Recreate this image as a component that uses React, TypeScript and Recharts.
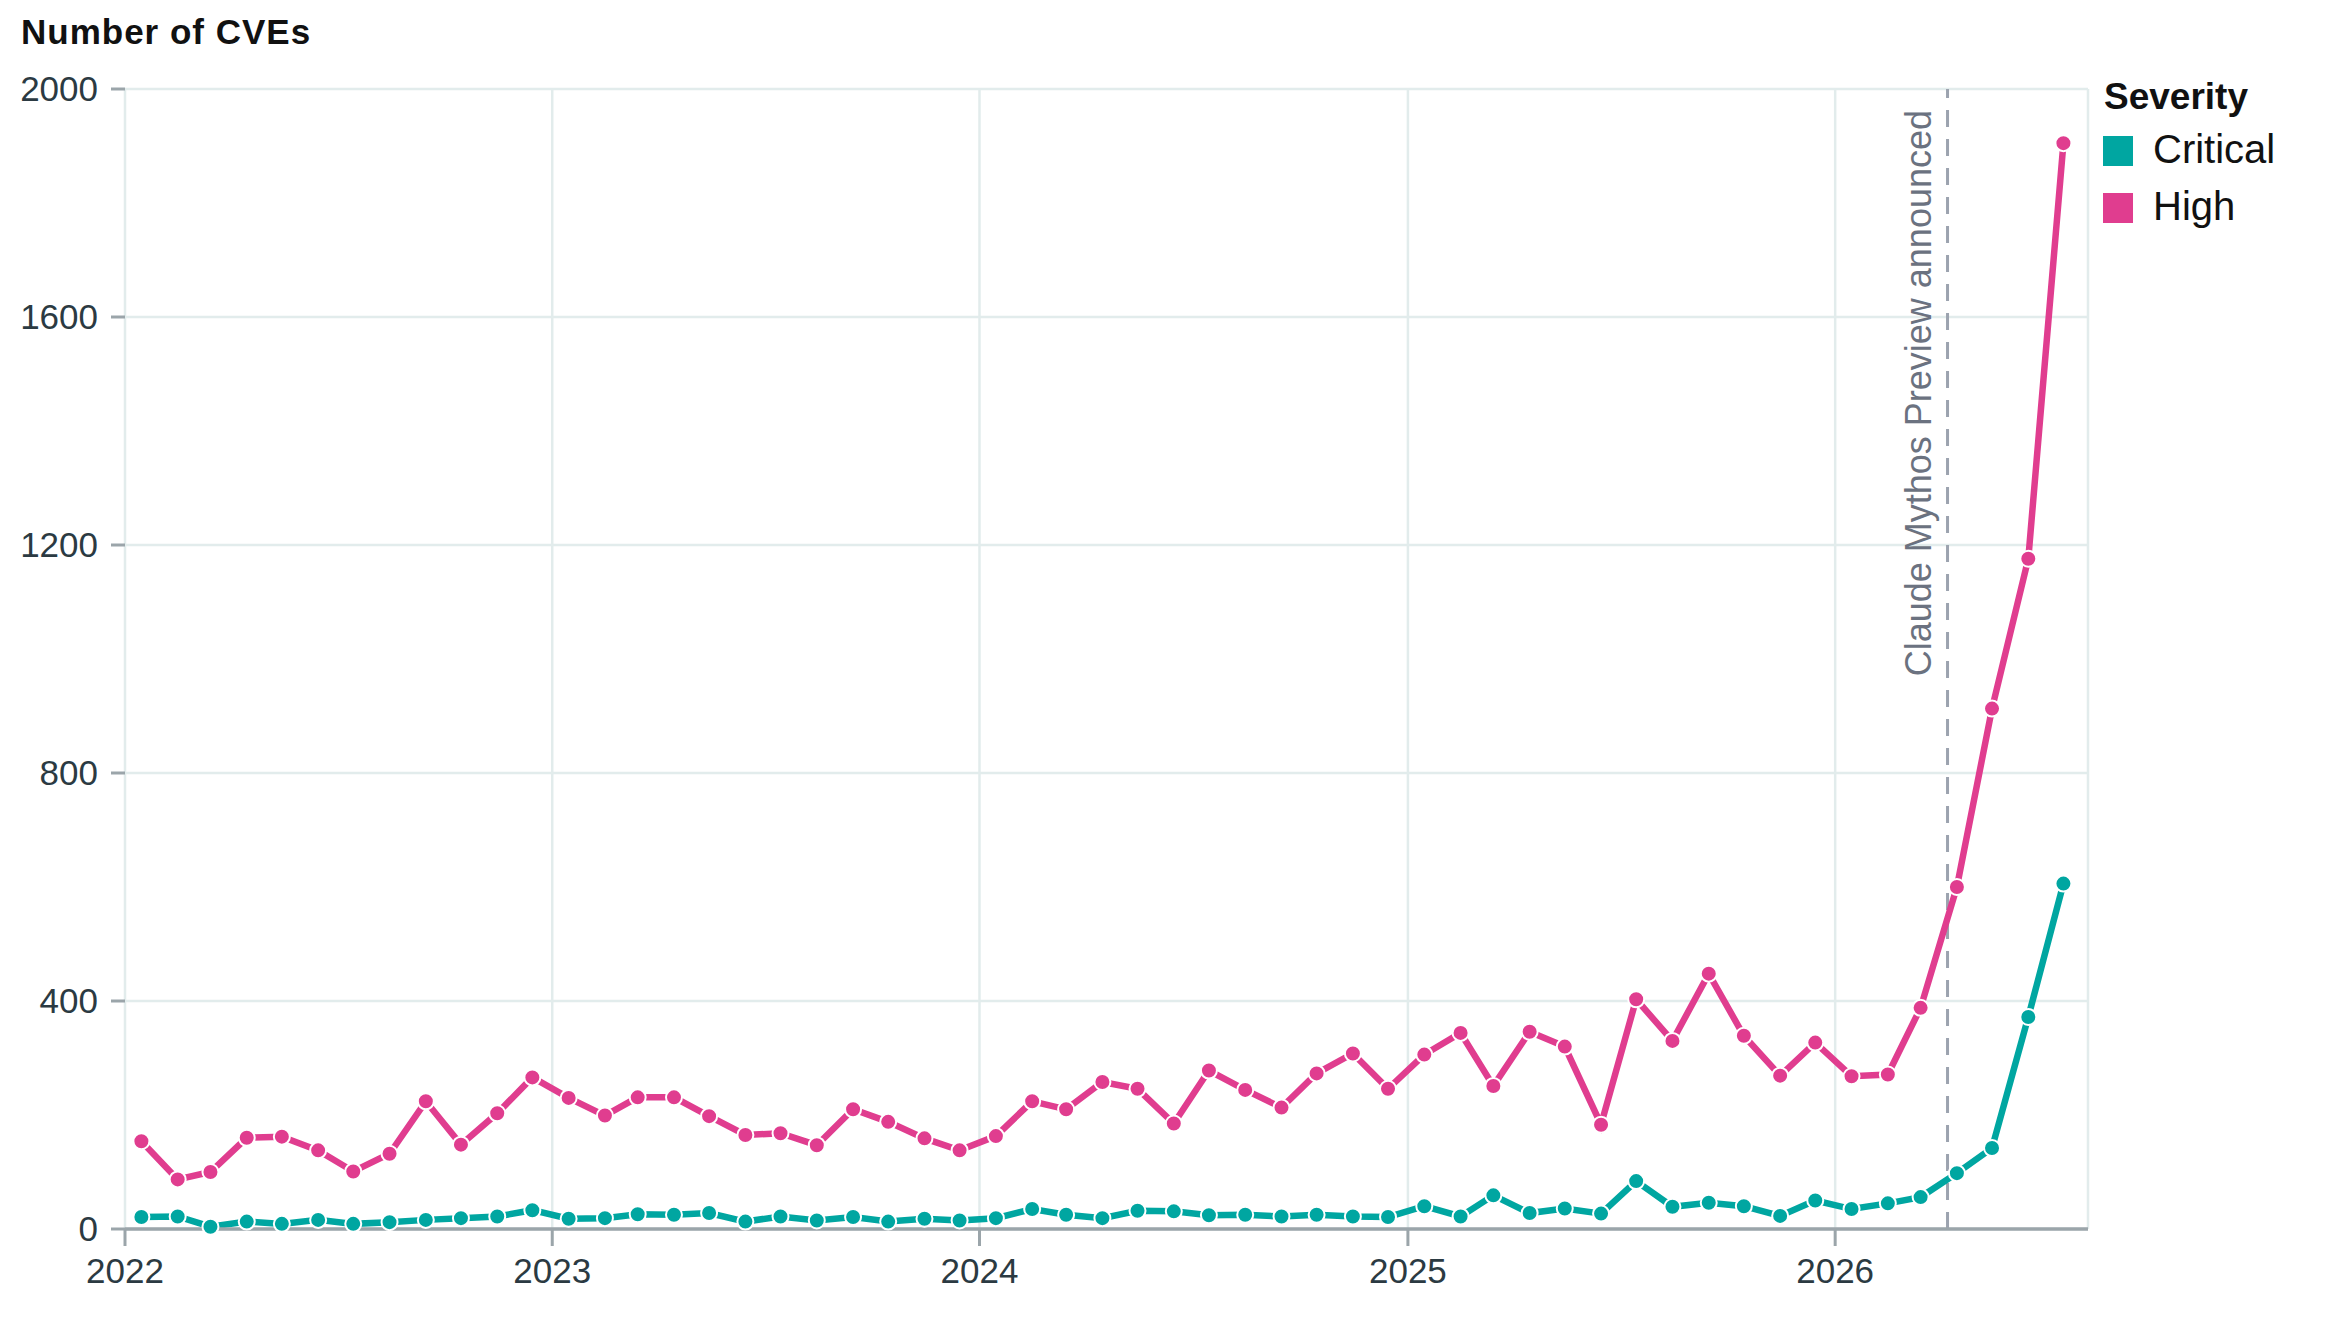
import React from "react";
import {
  LineChart,
  Line,
  XAxis,
  YAxis,
  CartesianGrid,
  ReferenceLine,
} from "recharts";

// ---- data ----
const months: string[] = [
  "2022-01", "2022-02", "2022-03", "2022-04", "2022-05", "2022-06",
  "2022-07", "2022-08", "2022-09", "2022-10", "2022-11", "2022-12",
  "2023-01", "2023-02", "2023-03", "2023-04", "2023-05", "2023-06",
  "2023-07", "2023-08", "2023-09", "2023-10", "2023-11", "2023-12",
  "2024-01", "2024-02", "2024-03", "2024-04", "2024-05", "2024-06",
  "2024-07", "2024-08", "2024-09", "2024-10", "2024-11", "2024-12",
  "2025-01", "2025-02", "2025-03", "2025-04", "2025-05", "2025-06",
  "2025-07", "2025-08", "2025-09", "2025-10", "2025-11", "2025-12",
  "2026-01", "2026-02", "2026-03", "2026-04", "2026-05", "2026-06",
  "2026-07",
];

const criticalValues: number[] = [
  21, 22, 4, 13, 9, 16, 9, 12, 16, 19, 22, 33,
  18, 19, 26, 25, 28, 13, 22, 15, 21, 13, 18, 15,
  19, 35, 25, 19, 32, 31, 24, 25, 22, 25, 22, 21,
  40, 22, 59, 28, 36, 27, 84, 39, 46, 40, 23, 50,
  35, 45, 56, 98, 142, 372, 606,
];

const highValues: number[] = [
  154, 87, 100, 160, 162, 138, 101, 132, 224, 148, 203, 266,
  230, 199, 231, 231, 198, 165, 168, 147, 210, 188, 159, 138,
  163, 224, 210, 258, 246, 185, 278, 244, 213, 273, 308, 246,
  306, 344, 251, 346, 320, 183, 403, 330, 448, 339, 269, 327,
  268, 271, 388, 600, 913, 1176, 1905,
];

const yearTickLabels: number[] = [2022, 2023, 2024, 2025, 2026];
const yTicks: number[] = [0, 400, 800, 1200, 1600, 2000];

const announcementDate = "2026-04-07";
const announcementText = "Claude Mythos Preview announced";

const seriesList = [
  { key: "critical", name: "Critical", color: "#00A6A1" },
  { key: "high", name: "High", color: "#E03D8F" },
];

// ---- helpers ----
const toTime = (s: string, day = 15) => {
  const [y, m, d] = s.split("-").map(Number);
  return Date.UTC(y, m - 1, d ?? day);
};

const data = months.map((m, i) => ({
  t: toTime(m),
  critical: criticalValues[i],
  high: highValues[i],
}));

const xTicks = yearTickLabels.map((y) => Date.UTC(y, 0, 1));
const xDomain = [Date.UTC(2022, 0, 1), Date.UTC(2026, 7, 5)];

const FONT = "'Liberation Sans', Arial, Helvetica, sans-serif";
const TICK_COLOR = "#2b3a42";
const AXIS_GRAY = "#9ba5aa";
const GRID = "#e2ecec";

const MythosLabel = (props: any) => {
  const vb = props.viewBox || {};
  const x = (vb.x ?? 0) - 17;
  const y = (vb.y ?? 0) + 21;
  return (
    <text
      x={x}
      y={y}
      transform={`rotate(-90 ${x} ${y})`}
      textAnchor="end"
      fontSize={36}
      fontFamily={FONT}
      fill="#6b7280"
    >
      {announcementText}
    </text>
  );
};

const makeDot = (color: string) => (props: any) => {
  const { cx, cy, index } = props;
  if (cx == null || cy == null) return <g key={`d-${index}`} />;
  return (
    <circle
      key={`d-${index}`}
      cx={cx}
      cy={cy}
      r={8}
      fill={color}
      stroke="#ffffff"
      strokeWidth={2}
    />
  );
};

const W = 2330;
const H = 1304;

export default function App() {
  return (
    <div style={{ position: "relative", width: W, height: H, fontFamily: FONT }}>
      <LineChart
        width={W}
        height={H}
        data={data}
        margin={{ top: 81, right: 250, bottom: 23, left: 0 }}
      >
        <CartesianGrid stroke={GRID} strokeWidth={2.5} />
        <XAxis
          dataKey="t"
          type="number"
          scale="linear"
          domain={xDomain}
          ticks={xTicks}
          interval={0}
          tickFormatter={(v: number) => String(new Date(v).getUTCFullYear())}
          height={60}
          tickSize={17}
          tickMargin={12}
          axisLine={{ stroke: AXIS_GRAY, strokeWidth: 3.5 }}
          tickLine={{ stroke: AXIS_GRAY, strokeWidth: 3 }}
          tick={{ fill: TICK_COLOR, fontSize: 35, fontFamily: FONT }}
          allowDataOverflow
        />
        <YAxis
          type="number"
          domain={[0, 2000]}
          ticks={yTicks}
          interval={0}
          width={117}
          tickSize={14}
          tickMargin={13}
          axisLine={false}
          tickLine={{ stroke: AXIS_GRAY, strokeWidth: 3 }}
          tick={{ fill: TICK_COLOR, fontSize: 35, fontFamily: FONT }}
        />
        <ReferenceLine
          x={toTime(announcementDate)}
          stroke="#9ca3af"
          strokeWidth={3}
          strokeDasharray="17 12"
          label={<MythosLabel />}
        />
        {seriesList.map((s) => (
          <Line
            key={s.key}
            dataKey={s.key}
            name={s.name}
            type="linear"
            stroke={s.color}
            strokeWidth={6.5}
            dot={makeDot(s.color)}
            activeDot={false}
            isAnimationActive={false}
          />
        ))}
      </LineChart>
      <svg
        width={W}
        height={H}
        style={{ position: "absolute", left: 0, top: 0, pointerEvents: "none" }}
      >
        <text
          x={13}
          y={36}
          fontSize={35}
          fontWeight={700}
          fontFamily={FONT}
          letterSpacing={1}
          fill="#111111"
        >
          Number of CVEs
        </text>
        <text x={2096} y={101} fontSize={37} fontWeight={700} fontFamily={FONT} fill="#111111">
          Severity
        </text>
        {seriesList.map((s, i) => (
          <g key={s.key}>
            <rect x={2095} y={128 + i * 57} width={30} height={30} fill={s.color} />
            <text x={2145} y={155 + i * 57} fontSize={40} fontFamily={FONT} fill="#111111">
              {s.name}
            </text>
          </g>
        ))}
      </svg>
    </div>
  );
}
